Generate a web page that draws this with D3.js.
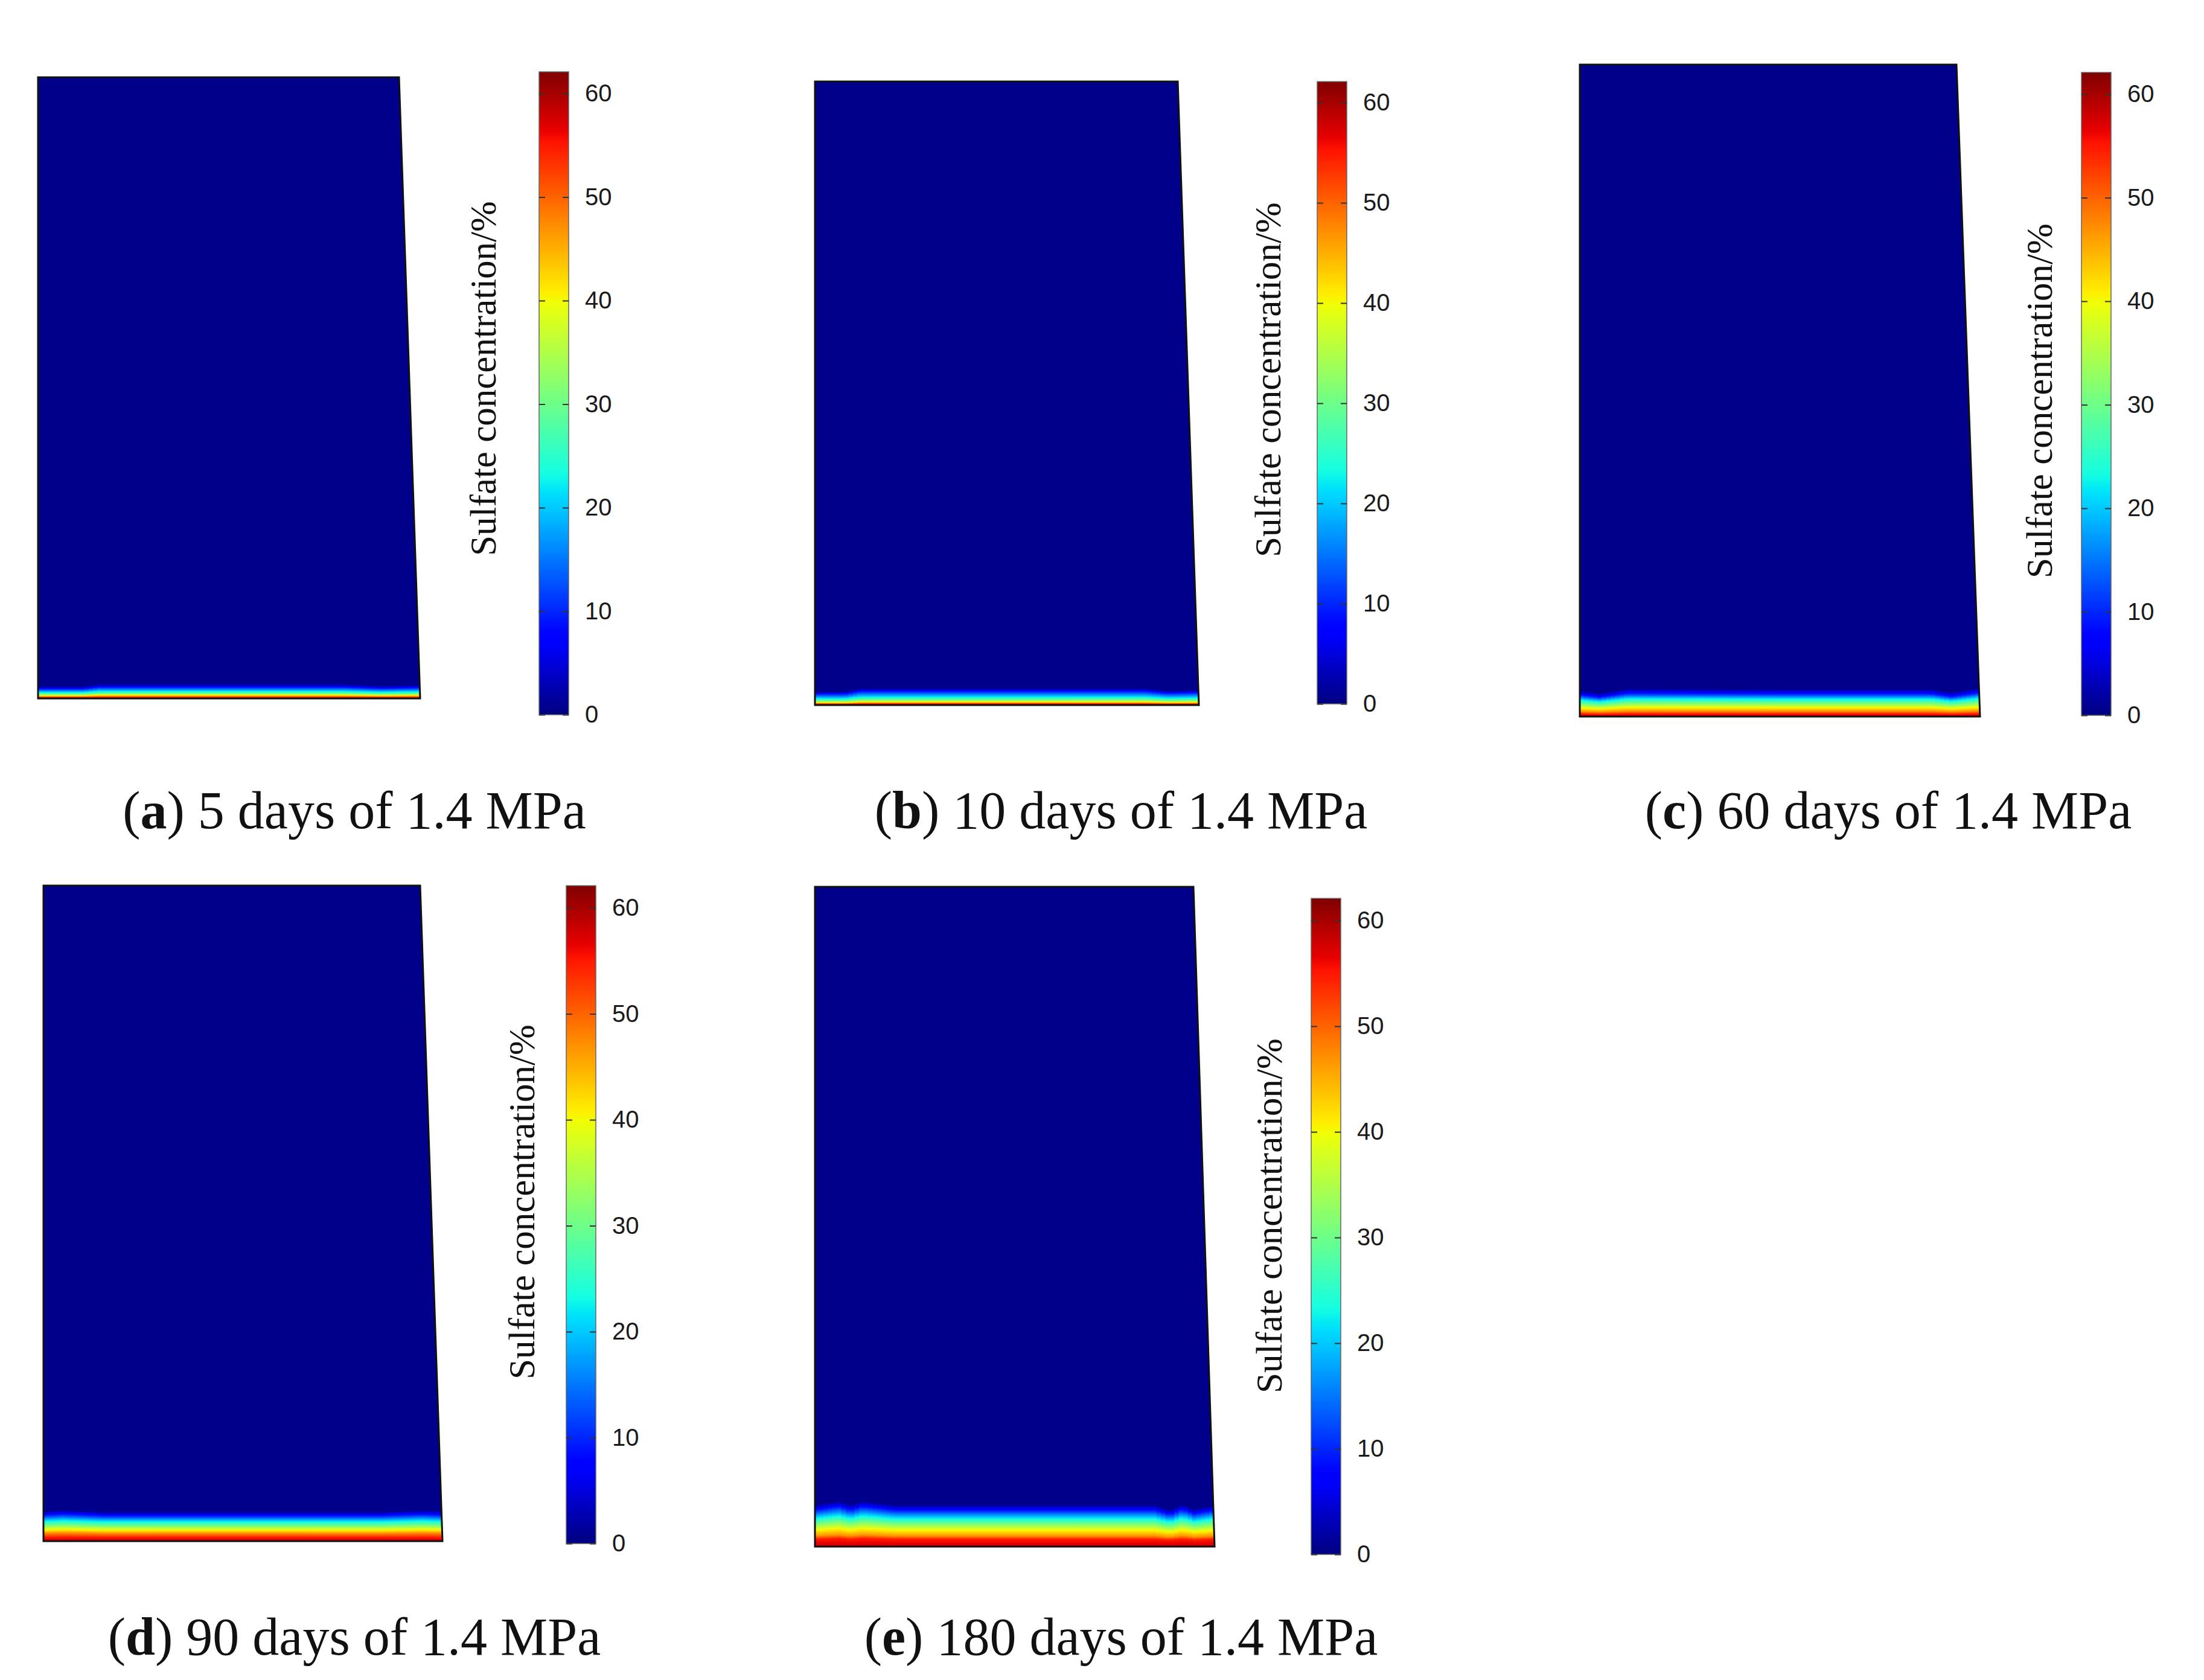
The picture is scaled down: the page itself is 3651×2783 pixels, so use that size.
<!DOCTYPE html>
<html lang="en">
<head>
<meta charset="utf-8">
<title>sulfate concentration</title>
<script src="https://d3js.org/d3.v7.min.js"></script>
<style>
  body { margin: 0; background: #fff; }
  svg { display: block; }
</style>
</head>
<body>
<div id="chart"></div>
<script>
// ---- data ----
var panelIds = ["a", "b", "c", "d", "e"]
var exposureDays = [5, 10, 60, 90, 180]
var pressureMPa = "1.4"
var colorbarTicks = [0, 10, 20, 30, 40, 50, 60]
var colorbarMax = 62.1
var interiorConc = 0.6

// depth from the exposed bottom face (% of specimen height) -> sulfate concentration (%)
var depthA = [0, 0.2, 0.55, 0.75, 1.15, 1.8, 2.3]
var concA  = [56, 54, 40, 31, 22, 9, 0.6]
var depthB = [0, 0.2, 0.5, 0.8, 1.3, 2.2, 2.7]
var concB  = [57, 55, 40, 31, 22, 9, 0.6]
var depthC = [0, 0.4, 0.8, 1.4, 2.0, 2.7, 3.4, 4.2]
var concC  = [58, 55, 47, 40, 31, 22, 10, 0.6]
var depthD = [0, 0.55, 1.2, 1.7, 2.3, 3.0, 3.8, 4.5]
var concD  = [58, 55, 47, 40, 31, 22, 10, 0.6]
var depthE = [0, 1.1, 1.6, 2.5, 3.4, 4.3, 5.4, 6.3]
var concE  = [58, 55, 47, 40, 31, 22, 10, 0.6]

// lateral change of the penetration front (position across width 0-1, relative depth)
var frontPosA = [0, 0.12, 0.16, 0.8, 0.9, 1]
var frontA    = [0.85, 0.85, 1, 1, 0.88, 0.95]
var frontPosB = [0, 0.08, 0.12, 0.86, 0.92, 1]
var frontB    = [0.8, 0.8, 1, 1, 0.85, 0.9]
var frontPosC = [0, 0.05, 0.12, 0.5, 0.88, 0.93, 1]
var frontC    = [0.95, 0.85, 1.02, 1, 1, 0.88, 1.05]
var frontPosD = [0, 0.05, 0.15, 0.85, 0.95, 1]
var frontD    = [1.02, 1.06, 1, 1, 1.05, 1.02]
var frontPosE = [0, 0.06, 0.09, 0.12, 0.2, 0.85, 0.89, 0.92, 0.95, 1]
var frontE    = [1, 1.1, 1, 1.1, 1, 1, 0.88, 1.02, 0.9, 1]

var depths = [depthA, depthB, depthC, depthD, depthE]
var concs = [concA, concB, concC, concD, concE]
var frontPos = [frontPosA, frontPosB, frontPosC, frontPosD, frontPosE]
var fronts = [frontA, frontB, frontC, frontD, frontE]

// ---- layout (page pixels) ----
var layout = [
  {xL: 63,   xTR: 661,  xBR: 696,  yT: 128,  yB: 1157, cbX: 893,  cb0: 1184, cb60: 155,  labX: 821,  labY: 627,  capX: 587,  capY: 1372},
  {xL: 1350, xTR: 1951, xBR: 1986, yT: 135,  yB: 1168, cbX: 2182, cb0: 1166, cb60: 170,  labX: 2121, labY: 629,  capX: 1857, capY: 1372},
  {xL: 2617, xTR: 3241, xBR: 3280, yT: 107,  yB: 1187, cbX: 3448, cb0: 1185, cb60: 156,  labX: 3399, labY: 664,  capX: 3128, capY: 1372},
  {xL: 72,   xTR: 696,  xBR: 733,  yT: 1467, yB: 2553, cbX: 938,  cb0: 2557, cb60: 1504, labX: 885,  labY: 1991, capX: 587,  capY: 2741},
  {xL: 1350, xTR: 1977, xBR: 2012, yT: 1469, yB: 2562, cbX: 2172, cb0: 2575, cb60: 1525, labX: 2123, labY: 2014, capX: 1857, capY: 2741}
]
var cbW = 49
var nCols = 90

// jet colour map
var jetR = d3.scaleLinear().domain([0, .35, .66, .89, 1]).range([0, 0, 1, 1, .5]).clamp(true)
var jetG = d3.scaleLinear().domain([0, .125, .375, .64, .91, 1]).range([0, 0, 1, 1, 0, 0]).clamp(true)
var jetB = d3.scaleLinear().domain([0, .11, .34, .65, 1]).range([.5, 1, 1, 0, 0]).clamp(true)
var norm = d3.scaleLinear().domain([0, colorbarMax]).range([0, 1]).clamp(true)
function jet(v) {
  var t = norm(v)
  return d3.rgb(jetR(t) * 255, jetG(t) * 255, jetB(t) * 255).formatHex()
}

var svg = d3.select("#chart").append("svg")
  .attr("width", 3651).attr("height", 2783)
var defs = svg.append("defs")

panelIds.forEach(function (id, i) {
  var L = layout[i]
  var g = svg.append("g")

  var profile = d3.scaleLinear().domain(depths[i]).range(concs[i]).clamp(true)
  var front = d3.scaleLinear().domain(frontPos[i]).range(fronts[i]).clamp(true)
  var y = d3.scaleLinear().domain([0, 100]).range([L.yB, L.yT])
  var xb = d3.scaleLinear().domain([0, 1]).range([L.xL, L.xBR])
  var maxDepth = d3.max(depths[i]) * d3.max(fronts[i]) * 1.05

  var quad = [[L.xL, L.yT], [L.xTR, L.yT], [L.xBR, L.yB], [L.xL, L.yB]]
  defs.append("clipPath").attr("id", "clip-" + id)
    .append("polygon").attr("points", quad.join(" "))

  var field = g.append("g").attr("clip-path", "url(#clip-" + id + ")")
  field.append("rect")
    .attr("x", L.xL - 2).attr("y", L.yT - 2)
    .attr("width", L.xBR - L.xL + 4).attr("height", L.yB - L.yT + 4)
    .attr("fill", jet(interiorConc))

  d3.range(nCols).forEach(function (c) {
    var u = (c + 0.5) / nCols
    var f = front(u)
    var gid = "grad-" + id + "-" + c
    var grad = defs.append("linearGradient").attr("id", gid)
      .attr("gradientUnits", "userSpaceOnUse")
      .attr("x1", 0).attr("x2", 0).attr("y1", y(0)).attr("y2", y(maxDepth))
    d3.range(0, 1.0001, 1 / 48).forEach(function (t) {
      grad.append("stop").attr("offset", t)
        .attr("stop-color", jet(Math.max(profile(t * maxDepth / f), interiorConc)))
    })
    field.append("rect")
      .attr("x", xb(c / nCols) - 0.5)
      .attr("width", xb((c + 1) / nCols) - xb(c / nCols) + 1)
      .attr("y", y(maxDepth))
      .attr("height", y(0) - y(maxDepth) + 2)
      .attr("fill", "url(#" + gid + ")")
  })

  g.append("polygon").attr("points", quad.join(" "))
    .attr("fill", "none").attr("stroke", "#111").attr("stroke-width", 3)
    .attr("stroke-linejoin", "miter")

  // colour bar
  var cy = d3.scaleLinear().domain([0, 60]).range([L.cb0, L.cb60])
  var cgid = "cbar-" + id
  var cgrad = defs.append("linearGradient").attr("id", cgid)
    .attr("x1", 0).attr("x2", 0).attr("y1", 1).attr("y2", 0)
  d3.range(0, 1.0001, 1 / 100).forEach(function (t) {
    cgrad.append("stop").attr("offset", t).attr("stop-color", jet(t * colorbarMax))
  })
  g.append("rect")
    .attr("x", L.cbX).attr("y", cy(colorbarMax))
    .attr("width", cbW).attr("height", cy(0) - cy(colorbarMax))
    .attr("fill", "url(#" + cgid + ")")
    .attr("stroke", "#666").attr("stroke-width", 1.5)

  var axR = g.append("g").attr("transform", "translate(" + (L.cbX + cbW) + ",0)")
    .call(d3.axisRight(cy).tickValues(colorbarTicks).tickSize(-10).tickPadding(27))
  var axL = g.append("g").attr("transform", "translate(" + L.cbX + ",0)")
    .call(d3.axisLeft(cy).tickValues(colorbarTicks).tickSize(-10).tickFormat(""))
  ;[axR, axL].forEach(function (ax) {
    ax.select(".domain").remove()
    ax.selectAll(".tick line").attr("stroke", "#333").attr("stroke-width", 2)
  })
  axR.selectAll(".tick text")
    .attr("font-family", "Liberation Sans").attr("font-size", 40).attr("fill", "#1a1a1a")

  g.append("text")
    .attr("transform", "translate(" + L.labX + "," + L.labY + ") rotate(-90)")
    .attr("text-anchor", "middle")
    .attr("font-family", "Liberation Serif").attr("font-size", 61).attr("fill", "#111")
    .text("Sulfate concentration/%")

  var cap = g.append("text")
    .attr("x", L.capX).attr("y", L.capY)
    .attr("text-anchor", "middle")
    .attr("font-family", "Liberation Serif").attr("font-size", 88).attr("fill", "#111")
  cap.append("tspan").text("(")
  cap.append("tspan").attr("font-weight", "bold").text(id)
  cap.append("tspan").text(") " + exposureDays[i] + " days of " + pressureMPa + " MPa")
})
</script>
</body>
</html>
